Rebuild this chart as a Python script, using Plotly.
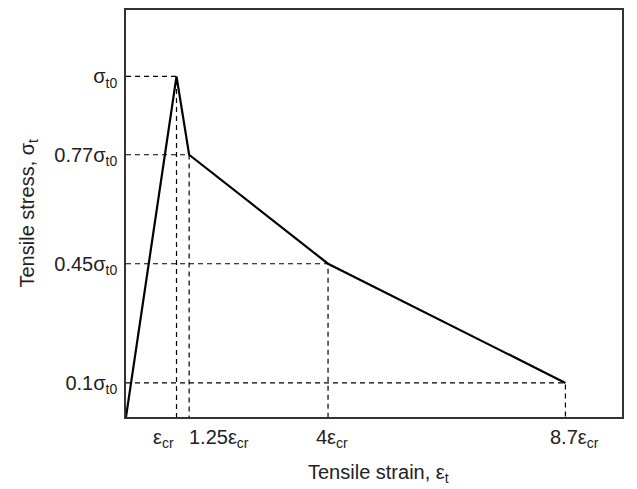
import plotly.graph_objects as go

# Data (strain in units of eps_cr, stress in units of sigma_t0)
strain = [0, 1.0, 1.25, 4.0, 8.7]
stress = [0, 1.0, 0.77, 0.45, 0.1]
x_tick_labels = ["ε<sub>cr</sub>", "1.25ε<sub>cr</sub>", "4ε<sub>cr</sub>", "8.7ε<sub>cr</sub>"]
y_tick_labels = ["σ<sub>t0</sub>", "0.77σ<sub>t0</sub>", "0.45σ<sub>t0</sub>", "0.1σ<sub>t0</sub>"]

FONT = "Liberation Sans, Arial, sans-serif"
FS = 20
COL = "#222"
fig = go.Figure()

# dashed guide lines
for xv, yv in zip(strain[1:], stress[1:]):
    fig.add_trace(go.Scatter(x=[0, xv, xv], y=[yv, yv, 0], mode="lines",
                             line=dict(color="black", width=1.2, dash="5px,4px"),
                             hoverinfo="skip", showlegend=False))

# main curve
fig.add_trace(go.Scatter(x=strain, y=stress, mode="lines",
                         line=dict(color="black", width=2.2), showlegend=False))

# x tick labels as annotations (shifted to mimic original placement)
x_shift = [-13, -2, 4, 9]
x_anchor = ["center", "left", "center", "center"]
for xv, lab, sh, anc in zip(strain[1:], x_tick_labels, x_shift, x_anchor):
    fig.add_annotation(x=xv, y=0, xref="x", yref="y", text=lab, showarrow=False,
                       xanchor=anc, yanchor="middle", yshift=-21, xshift=sh,
                       font=dict(family=FONT, size=FS, color=COL))

# axis titles
fig.add_annotation(x=0.5, y=0, xref="paper", yref="paper",
                   text="Tensile strain, ε<sub>t</sub>", showarrow=False,
                   xanchor="center", yanchor="middle", yshift=-56, xshift=4,
                   font=dict(family=FONT, size=FS, color=COL))
fig.add_annotation(x=0, y=0.5, xref="paper", yref="paper",
                   text="Tensile stress, σ<sub>t</sub>", showarrow=False,
                   textangle=-90, xanchor="center", yanchor="middle", xshift=-98,
                   font=dict(family=FONT, size=FS, color=COL))

fig.update_layout(
    width=629, height=481,
    margin=dict(l=118, r=15, t=2, b=72, autoexpand=False),
    paper_bgcolor="white", plot_bgcolor="white",
    font=dict(family=FONT, size=FS, color=COL),
    xaxis=dict(range=[0, 9.82], showgrid=False, zeroline=False,
               showticklabels=False, ticks="",
               showline=True, mirror=True, linecolor="#333", linewidth=1.5),
    yaxis=dict(range=[0, 1.195], showgrid=False, zeroline=False,
               tickvals=stress[1:], ticktext=y_tick_labels, ticks="",
               ticklabelstandoff=3,
               showline=True, mirror=True, linecolor="#333", linewidth=1.5),
)
fig.write_html("out.html")
